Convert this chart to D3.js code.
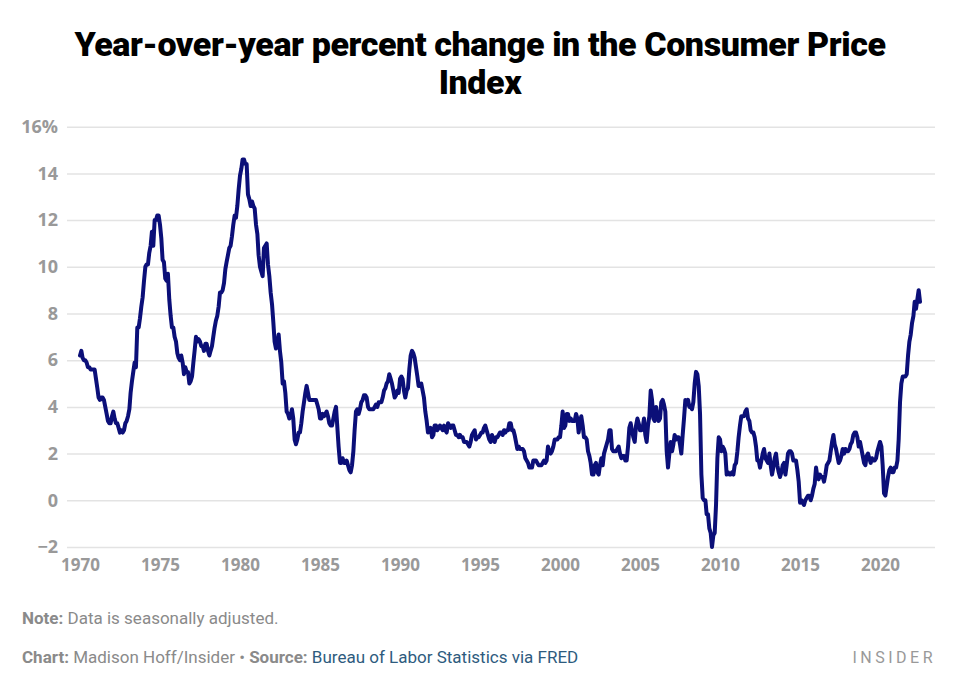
<!DOCTYPE html>
<html>
<head>
<meta charset="utf-8">
<script src="https://cdn.jsdelivr.net/npm/d3@7"></script>
<style>
  html, body { margin: 0; padding: 0; background: #fff; }
  svg { display: block; }
</style>
</head>
<body>
<svg id="chart" width="960" height="690"></svg>
<script>
// ---- Data (monthly year-over-year % change in CPI, Jan 1970 – Jul 2022) ----
const startYear = 1970;
const cpi1970s = [
  6.2,6.4,6.1,6.0,6.0,5.9,5.7,5.7,5.6,5.6,5.6,5.6,
  5.2,4.8,4.4,4.3,4.4,4.4,4.3,4.0,3.7,3.4,3.3,3.3,
  3.6,3.8,3.5,3.3,3.3,3.1,2.9,3.0,2.9,3.0,3.3,3.4,
  3.6,3.9,4.6,5.1,5.5,5.9,5.7,7.4,7.4,7.8,8.3,8.7,
  9.4,10.0,10.1,10.1,10.6,10.9,11.5,10.9,12.0,12.0,12.2,12.2,
  11.8,11.2,10.3,10.2,9.5,9.4,9.7,8.6,7.9,7.4,7.4,7.0,
  6.8,6.3,6.1,6.0,6.2,5.9,5.4,5.7,5.5,5.5,5.0,5.1,
  5.3,5.9,6.4,7.0,6.8,6.9,6.8,6.6,6.6,6.4,6.7,6.7,
  6.4,6.2,6.4,6.6,7.0,7.4,7.7,7.9,8.3,8.9,8.9,9.0,
  9.3,9.9,10.2,10.5,10.8,10.9,11.3,11.8,12.2,12.1,12.6,13.3
];
const cpi1980s = [
  13.9,14.2,14.6,14.6,14.4,14.4,13.1,12.9,12.6,12.8,12.6,12.5,
  11.8,11.4,10.5,10.0,9.8,9.6,10.8,10.9,11.0,10.1,9.6,8.9,
  8.4,7.6,6.8,6.5,6.7,7.1,6.4,5.9,5.0,5.1,4.6,3.8,
  3.7,3.5,3.6,3.9,3.5,2.6,2.4,2.6,2.9,2.9,3.3,3.8,
  4.2,4.6,4.9,4.6,4.3,4.3,4.3,4.3,4.3,4.3,4.1,3.9,
  3.5,3.5,3.7,3.6,3.7,3.8,3.6,3.3,3.2,3.2,3.5,3.8,
  4.0,3.1,2.3,1.6,1.6,1.8,1.6,1.6,1.7,1.5,1.3,1.2,
  1.5,2.1,3.0,3.8,3.9,3.7,3.9,4.2,4.3,4.5,4.5,4.4,
  4.0,3.9,3.9,3.9,3.9,4.0,4.1,4.0,4.2,4.2,4.2,4.4,
  4.7,4.8,5.0,5.1,5.4,5.2,5.0,4.7,4.4,4.5,4.7,4.6
];
const cpi1990s = [
  5.2,5.3,5.2,4.7,4.4,4.7,4.8,5.6,6.2,6.4,6.3,6.1,
  5.7,5.3,4.9,4.9,5.0,4.7,4.4,3.8,3.4,2.9,3.0,3.1,
  2.7,2.8,3.2,3.2,3.0,3.1,3.2,3.1,3.0,3.2,3.0,2.9,
  3.3,3.2,3.1,3.2,3.2,3.0,2.8,2.8,2.7,2.8,2.7,2.7,
  2.5,2.5,2.5,2.4,2.3,2.5,2.8,2.9,3.0,2.6,2.7,2.7,
  2.8,2.9,2.9,3.1,3.2,3.0,2.8,2.6,2.5,2.8,2.6,2.5,
  2.7,2.7,2.8,2.9,2.9,2.8,3.0,2.9,3.0,3.0,3.3,3.3,
  3.0,3.0,2.8,2.5,2.2,2.3,2.2,2.2,2.2,2.1,1.8,1.7,
  1.6,1.4,1.4,1.4,1.7,1.7,1.7,1.6,1.5,1.5,1.5,1.6,
  1.7,1.6,1.7,2.3,2.1,2.0,2.1,2.3,2.6,2.6,2.6,2.7
];
const cpi2000s = [
  2.7,3.2,3.8,3.1,3.2,3.7,3.7,3.4,3.5,3.4,3.4,3.4,
  3.7,3.5,2.9,3.3,3.6,3.2,2.7,2.7,2.6,2.1,1.9,1.6,
  1.1,1.1,1.5,1.6,1.2,1.1,1.5,1.8,1.5,2.0,2.2,2.4,
  2.6,3.0,3.0,2.2,2.1,2.1,2.1,2.2,2.3,2.0,1.8,1.9,
  1.9,1.7,1.7,2.3,3.1,3.3,3.0,2.7,2.5,3.2,3.5,3.3,
  3.0,3.0,3.1,3.5,2.8,2.5,3.2,3.6,4.7,4.3,3.5,3.4,
  4.0,3.6,3.4,3.5,4.2,4.3,4.1,3.8,2.1,1.4,2.0,2.5,
  2.1,2.4,2.8,2.6,2.7,2.7,2.4,2.0,2.8,3.5,4.3,4.1,
  4.3,4.0,4.0,3.9,4.2,5.0,5.5,5.4,4.9,3.7,1.1,0.1,
  0.0,0.0,-0.6,-0.6,-1.2,-1.4,-2.0,-1.5,-1.4,-0.2,1.8,2.7
];
const cpi2010s = [
  2.6,2.1,2.3,2.2,2.0,1.1,1.2,1.1,1.1,1.2,1.1,1.5,
  1.6,2.1,2.7,3.2,3.6,3.6,3.6,3.8,3.9,3.5,3.4,3.0,
  2.9,2.9,2.7,2.3,1.7,1.7,1.4,1.7,2.0,2.2,1.8,1.7,
  1.6,2.0,1.5,1.1,1.4,1.8,2.0,1.5,1.2,1.0,1.2,1.5,
  1.6,1.1,1.5,2.0,2.1,2.1,2.0,1.7,1.7,1.7,1.3,0.8,
  -0.1,0.0,-0.1,-0.2,0.0,0.1,0.2,0.2,0.0,0.2,0.5,0.7,
  1.4,1.0,0.9,1.1,1.0,1.0,0.8,1.1,1.5,1.6,1.7,2.1,
  2.5,2.8,2.4,2.2,1.9,1.6,1.7,1.9,2.2,2.0,2.2,2.1,
  2.1,2.2,2.4,2.5,2.8,2.9,2.9,2.7,2.3,2.5,2.2,1.9,
  1.6,1.5,1.9,2.0,1.8,1.6,1.8,1.7,1.7,1.8,2.1,2.3
];
const cpi2020s = [
  2.5,2.3,1.5,0.3,0.2,0.6,1.0,1.3,1.4,1.2,1.2,1.4,
  1.4,1.7,2.6,4.2,5.0,5.3,5.3,5.3,5.4,6.2,6.8,7.1,
  7.6,7.9,8.5,8.2,8.6,9.0,8.5
];
const yTicks = [-2, 0, 2, 4, 6, 8, 10, 12, 14, 16];
const xTickYears = [1970, 1975, 1980, 1985, 1990, 1995, 2000, 2005, 2010, 2015, 2020];
const titleLines = ["Year-over-year percent change in the Consumer Price", "Index"];

const values = [].concat(cpi1970s, cpi1980s, cpi1990s, cpi2000s, cpi2010s, cpi2020s);
const data = values.map((v, i) => ({ date: new Date(startYear + Math.floor(i / 12), i % 12, 1), value: v }));

// ---- Chart ----
const svg = d3.select("#chart");
svg.append("rect").attr("width", 960).attr("height", 690).attr("fill", "#fff");

const x = d3.scaleTime()
  .domain([new Date(1970, 0, 1), new Date(2022, 6, 1)])
  .range([80, 920]);
const y = d3.scaleLinear().domain([-2, 16]).range([547, 126.7]);

// Title
svg.append("g").selectAll("text").data(titleLines).join("text")
  .attr("x", 480).attr("y", (d, i) => 56 + i * 38)
  .attr("text-anchor", "middle")
  .attr("font-family", "Roboto, 'Noto Sans', sans-serif")
  .attr("font-weight", 900)
  .attr("font-size", 34)
  .attr("letter-spacing", -0.4)
  .attr("fill", "#000")
  .text(d => d);

// Gridlines + y labels
const yAxis = d3.axisLeft(y)
  .tickValues(yTicks)
  .tickSize(-(935 - 67))
  .tickPadding(9)
  .tickFormat(d => d === 16 ? "16%" : (d < 0 ? "\u2212" + Math.abs(d) : String(d)));
const gy = svg.append("g").attr("transform", "translate(67,0)").call(yAxis);
gy.select(".domain").remove();
gy.selectAll(".tick line").attr("stroke", "#e3e3e3").attr("stroke-width", 1.5);
gy.selectAll(".tick text")
  .attr("font-family", "'Open Sans', sans-serif")
  .attr("font-weight", 700)
  .attr("font-size", 18)
  .attr("fill", "#999");

// X labels
const xAxis = d3.axisBottom(x)
  .tickValues(xTickYears.map(yr => new Date(yr, 0, 1)))
  .tickSize(0)
  .tickPadding(0)
  .tickFormat(d3.timeFormat("%Y"));
const gx = svg.append("g").attr("transform", "translate(0,559)").call(xAxis);
gx.select(".domain").remove();
gx.selectAll(".tick text")
  .attr("font-family", "'Open Sans', sans-serif")
  .attr("font-weight", 700)
  .attr("font-size", 17)
  .attr("fill", "#999");

// Line
const line = d3.line().x(d => x(d.date)).y(d => y(d.value));
svg.append("path").datum(data)
  .attr("d", line)
  .attr("fill", "none")
  .attr("stroke", "#0b0f78")
  .attr("stroke-width", 4)
  .attr("stroke-linejoin", "round")
  .attr("stroke-linecap", "round");

// Footer
const foot = svg.append("g")
  .attr("font-family", "Roboto, 'Noto Sans', sans-serif")
  .attr("font-size", 17);
const note = foot.append("text").attr("x", 22).attr("y", 624).attr("fill", "#8a8a8a");
note.append("tspan").attr("font-weight", 700).text("Note:");
note.append("tspan").text(" Data is seasonally adjusted.");
const src = foot.append("text").attr("x", 22).attr("y", 663).attr("fill", "#8a8a8a");
src.append("tspan").attr("font-weight", 700).text("Chart:");
src.append("tspan").text(" Madison Hoff/Insider \u2022 ");
src.append("tspan").attr("font-weight", 700).text("Source:");
src.append("tspan").attr("fill", "#2e5b7e").text(" Bureau of Labor Statistics via FRED");
foot.append("text").attr("x", 936).attr("y", 663).attr("text-anchor", "end")
  .attr("font-size", 16)
  .attr("letter-spacing", 3.5).attr("fill", "#999").text("INSIDER");
</script>
</body>
</html>
